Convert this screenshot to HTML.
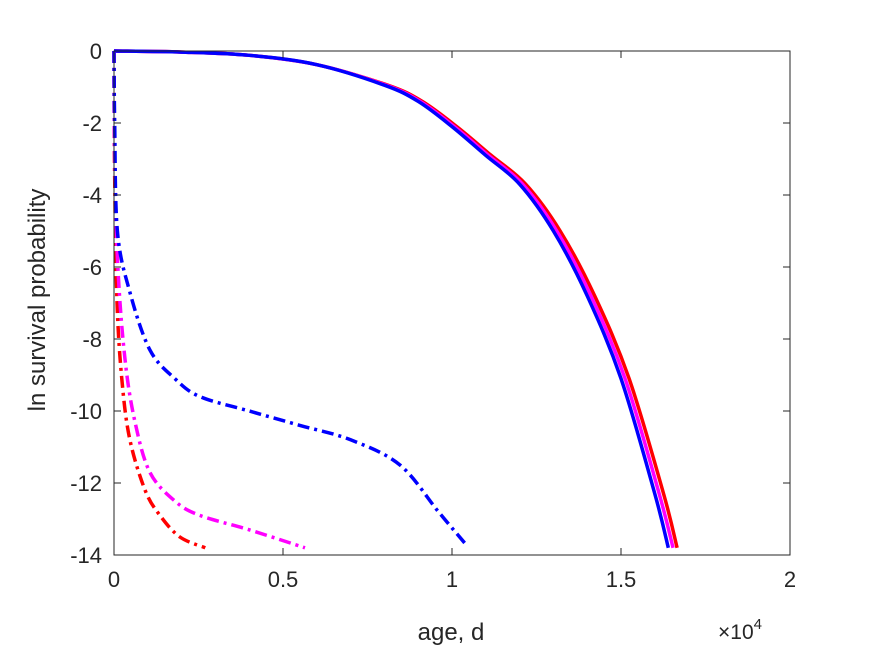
<!DOCTYPE html>
<html><head><meta charset="utf-8"><style>
body{margin:0;background:#fff;}
svg{display:block;font-family:"Liberation Sans",sans-serif;}
</style></head><body>
<svg id="chart" width="875" height="656">
<rect x="0" y="0" width="875" height="656" fill="#fff"/>
<g id="plot"></g>
<g id="axes"></g>
<text x="451" y="640" text-anchor="middle" font-size="24" fill="#262626" font-family="Liberation Sans, sans-serif">age, d</text>
<text x="718" y="639" font-size="21" fill="#262626" font-family="Liberation Sans, sans-serif">×10<tspan dy="-10" font-size="15">4</tspan></text>
<text transform="translate(45,300) rotate(-90)" text-anchor="middle" font-size="24" fill="#262626" font-family="Liberation Sans, sans-serif">ln survival probability</text>
</svg>
<script>
const xTicks=[0,0.5,1,1.5,2];
const xTickLabels=["0","0.5","1","1.5","2"];
const yTicks=[0,-2,-4,-6,-8,-10,-12,-14];
const yTickLabels=["0","-2","-4","-6","-8","-10","-12","-14"];
const blueSolidAge=[0,0.2,0.4,0.6,0.8,0.9,1.0,1.1,1.2,1.3,1.4,1.5,1.6,1.64];
const blueSolidLn=[0,-0.03,-0.12,-0.38,-0.95,-1.4,-2.1,-2.9,-3.7,-5.0,-6.8,-9.1,-12.3,-13.8];
const magSolidAge=[0,0.2,0.4,0.6,0.805,0.906,1.007,1.108,1.209,1.31,1.411,1.512,1.613,1.654];
const magSolidLn=[0,-0.03,-0.12,-0.38,-0.95,-1.4,-2.1,-2.9,-3.7,-5.0,-6.8,-9.1,-12.3,-13.8];
const redSolidAge=[0,0.2,0.4,0.6,0.81,0.912,1.014,1.116,1.218,1.32,1.422,1.524,1.626,1.666];
const redSolidLn=[0,-0.03,-0.12,-0.38,-0.95,-1.4,-2.1,-2.9,-3.7,-5.0,-6.8,-9.1,-12.3,-13.8];
const blueDashAge=[0,0.002,0.01,0.047,0.106,0.18,0.254,0.4,0.55,0.7,0.846,0.96,1.045];
const blueDashLn=[0,-2,-5,-6.7,-8.3,-9.1,-9.6,-10,-10.4,-10.8,-11.5,-12.8,-13.75];
const magDashAge=[0,0.002,0.012,0.033,0.062,0.106,0.18,0.254,0.4,0.565];
const magDashLn=[0,-3,-6.1,-8.6,-10.3,-11.7,-12.5,-12.9,-13.3,-13.8];
const redDashAge=[0,0.002,0.009,0.024,0.047,0.092,0.136,0.195,0.27];
const redDashLn=[0,-3.5,-7,-9.2,-10.8,-12.2,-12.9,-13.5,-13.8];

const L=114,R=790,T=51,B=555;
const xs=v=>L+(v/2)*(R-L);
const ys=v=>T+(-v/14)*(B-T);
const NS="http://www.w3.org/2000/svg";
const plot=document.getElementById('plot'),axes=document.getElementById('axes');
function mk(tag,attrs,parent){const e=document.createElementNS(NS,tag);for(const k in attrs)e.setAttribute(k,attrs[k]);parent.appendChild(e);return e;}
function smoothPath(ax,ay){const p=ax.map((a,i)=>[xs(a),ys(ay[i])]);let d="M"+p[0][0]+","+p[0][1];
for(let i=0;i<p.length-1;i++){const p0=p[Math.max(i-1,0)],p1=p[i],p2=p[i+1],p3=p[Math.min(i+2,p.length-1)];
d+=" C"+(p1[0]+(p2[0]-p0[0])/6)+","+(p1[1]+(p2[1]-p0[1])/6)+" "+(p2[0]-(p3[0]-p1[0])/6)+","+(p2[1]-(p3[1]-p1[1])/6)+" "+p2[0]+","+p2[1];}return d;}
function line(ax,ay,color,dash,name){const e=mk('path',{d:smoothPath(ax,ay),fill:'none',stroke:color,'stroke-width':3.5,'stroke-linejoin':'round'},plot);
if(dash)e.setAttribute('stroke-dasharray','12,5,3,5');

}
line(redDashAge,redDashLn,'#ff0000',true,'red-dashdot-line');
line(magDashAge,magDashLn,'#ff00ff',true,'magenta-dashdot-line');
line(blueDashAge,blueDashLn,'#0000ff',true,'blue-dashdot-line');
line(redSolidAge,redSolidLn,'#ff0000',false,'red-solid-line');
line(magSolidAge,magSolidLn,'#ff00ff',false,'magenta-solid-line');
line(blueSolidAge,blueSolidLn,'#0000ff',false,'blue-solid-line');

const box=mk('rect',{x:L,y:T,width:R-L,height:B-T,fill:'none',stroke:'#262626','stroke-width':1},axes);


xTicks.forEach((v,i)=>{const x=xs(v);
mk('line',{x1:x,x2:x,y1:B,y2:B-7,stroke:'#262626'},axes);
mk('line',{x1:x,x2:x,y1:T,y2:T+7,stroke:'#262626'},axes);
const t=mk('text',{x:x,y:B+32,'text-anchor':'middle','font-size':22,fill:'#262626'},axes);t.textContent=xTickLabels[i];

});
yTicks.forEach((v,i)=>{const y=ys(v);
mk('line',{x1:L,x2:L+7,y1:y,y2:y,stroke:'#262626'},axes);
mk('line',{x1:R,x2:R-7,y1:y,y2:y,stroke:'#262626'},axes);
const t=mk('text',{x:L-12,y:y+8,'text-anchor':'end','font-size':22,fill:'#262626'},axes);t.textContent=yTickLabels[i];

});
</script>
</body></html>
